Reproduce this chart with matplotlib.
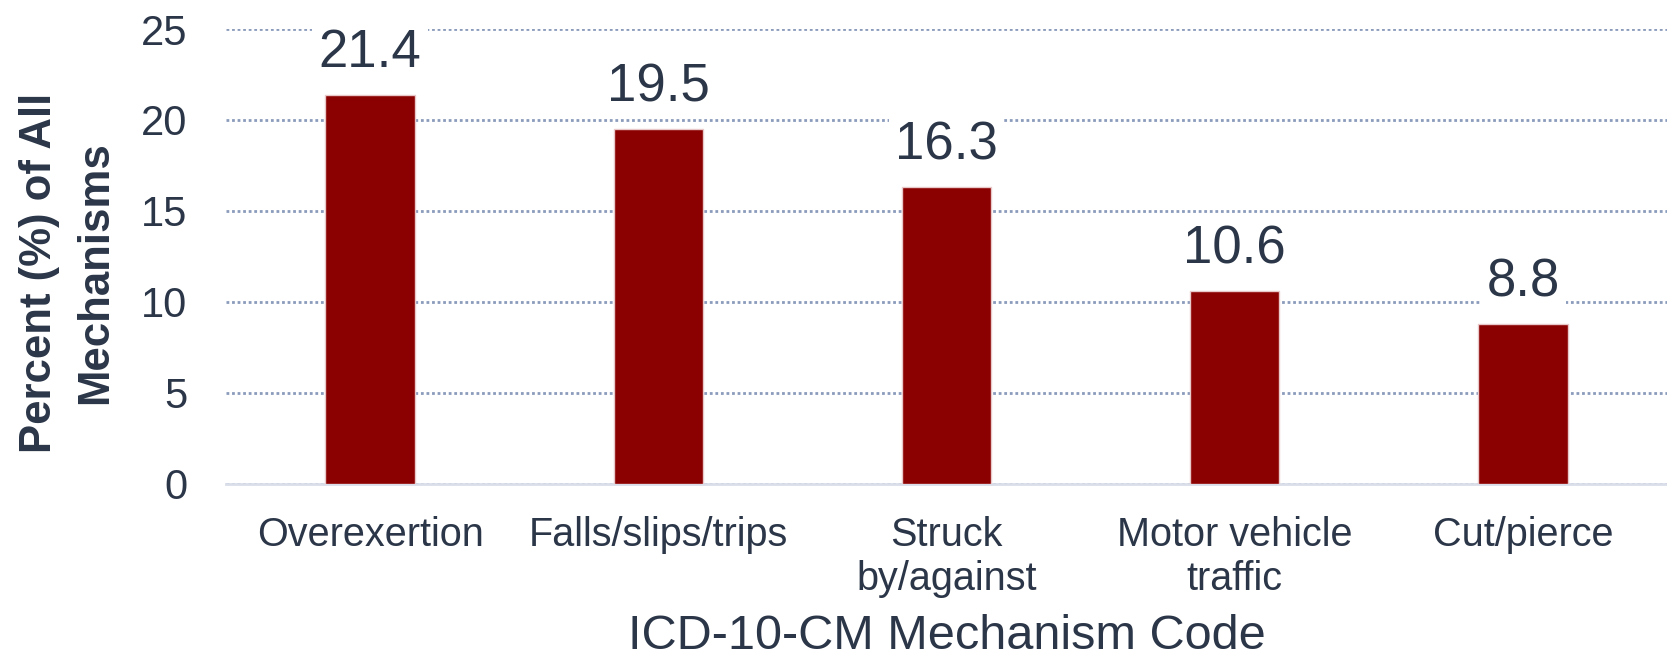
import numpy as np
import matplotlib.pyplot as plt

# Дані
categories = ['Overexertion', 'Falls/slips/trips', 'Struck\nby/against', 'Motor vehicle\ntraffic', 'Cut/pierce']
percents = [21.4, 19.5, 16.3, 10.6, 8.8]
yticks = [0, 5, 10, 15, 20, 25]

text_color = '#2b3648'
bar_color = '#8b0000'

fig = plt.figure(figsize=(16.67, 6.6), dpi=100)
ax = fig.add_axes([0.1356, 0.267, 0.8644, 0.689])

x = np.arange(len(categories))
ax.bar(x, percents, width=0.31, color=bar_color, edgecolor='#e8c8c8', linewidth=1, zorder=3)

for xi, v in zip(x, percents):
    ax.annotate(f'{v}', (xi, v), xytext=(0, 12), textcoords='offset points',
                ha='center', va='bottom', fontsize=38, color=text_color,
                family='Liberation Sans', zorder=5,
                bbox=dict(boxstyle='square,pad=0.12', fc='white', ec='none'))

ax.set_xlim(-0.5, len(categories) - 0.5)
ax.set_ylim(0, 25)
ax.set_yticks(yticks)
ax.set_xticks(x)
ax.set_xticklabels(categories, fontsize=28.5, color=text_color, family='Liberation Sans',
                   linespacing=1.2)
for lab in ax.get_yticklabels():
    lab.set_fontsize(30)
    lab.set_color(text_color)
    lab.set_family('Liberation Sans')

ax.tick_params(axis='both', length=0)
ax.tick_params(axis='y', pad=28)
ax.tick_params(axis='x', pad=23)

ax.yaxis.grid(True, linestyle=(0, (1, 1)), color='#8a9bbb', linewidth=2, zorder=0)
ax.set_axisbelow(True)
for s in ['top', 'right', 'left']:
    ax.spines[s].set_visible(False)
ax.spines['bottom'].set_color('#d9dee9')
ax.spines['bottom'].set_linewidth(2)

ax.set_xlabel('ICD-10-CM Mechanism Code', fontsize=35, color=text_color,
              family='Liberation Sans', va='bottom')
ax.xaxis.set_label_coords(0.5, -0.385)
ax.set_ylabel('Percent (%) of All\nMechanisms', fontsize=31.5, color=text_color,
              family='Liberation Sans', fontweight='bold', linespacing=1.45,
              va='center', ha='center')
ax.yaxis.set_label_coords(-0.110, 0.464)

plt.savefig('out.png', dpi=100)
